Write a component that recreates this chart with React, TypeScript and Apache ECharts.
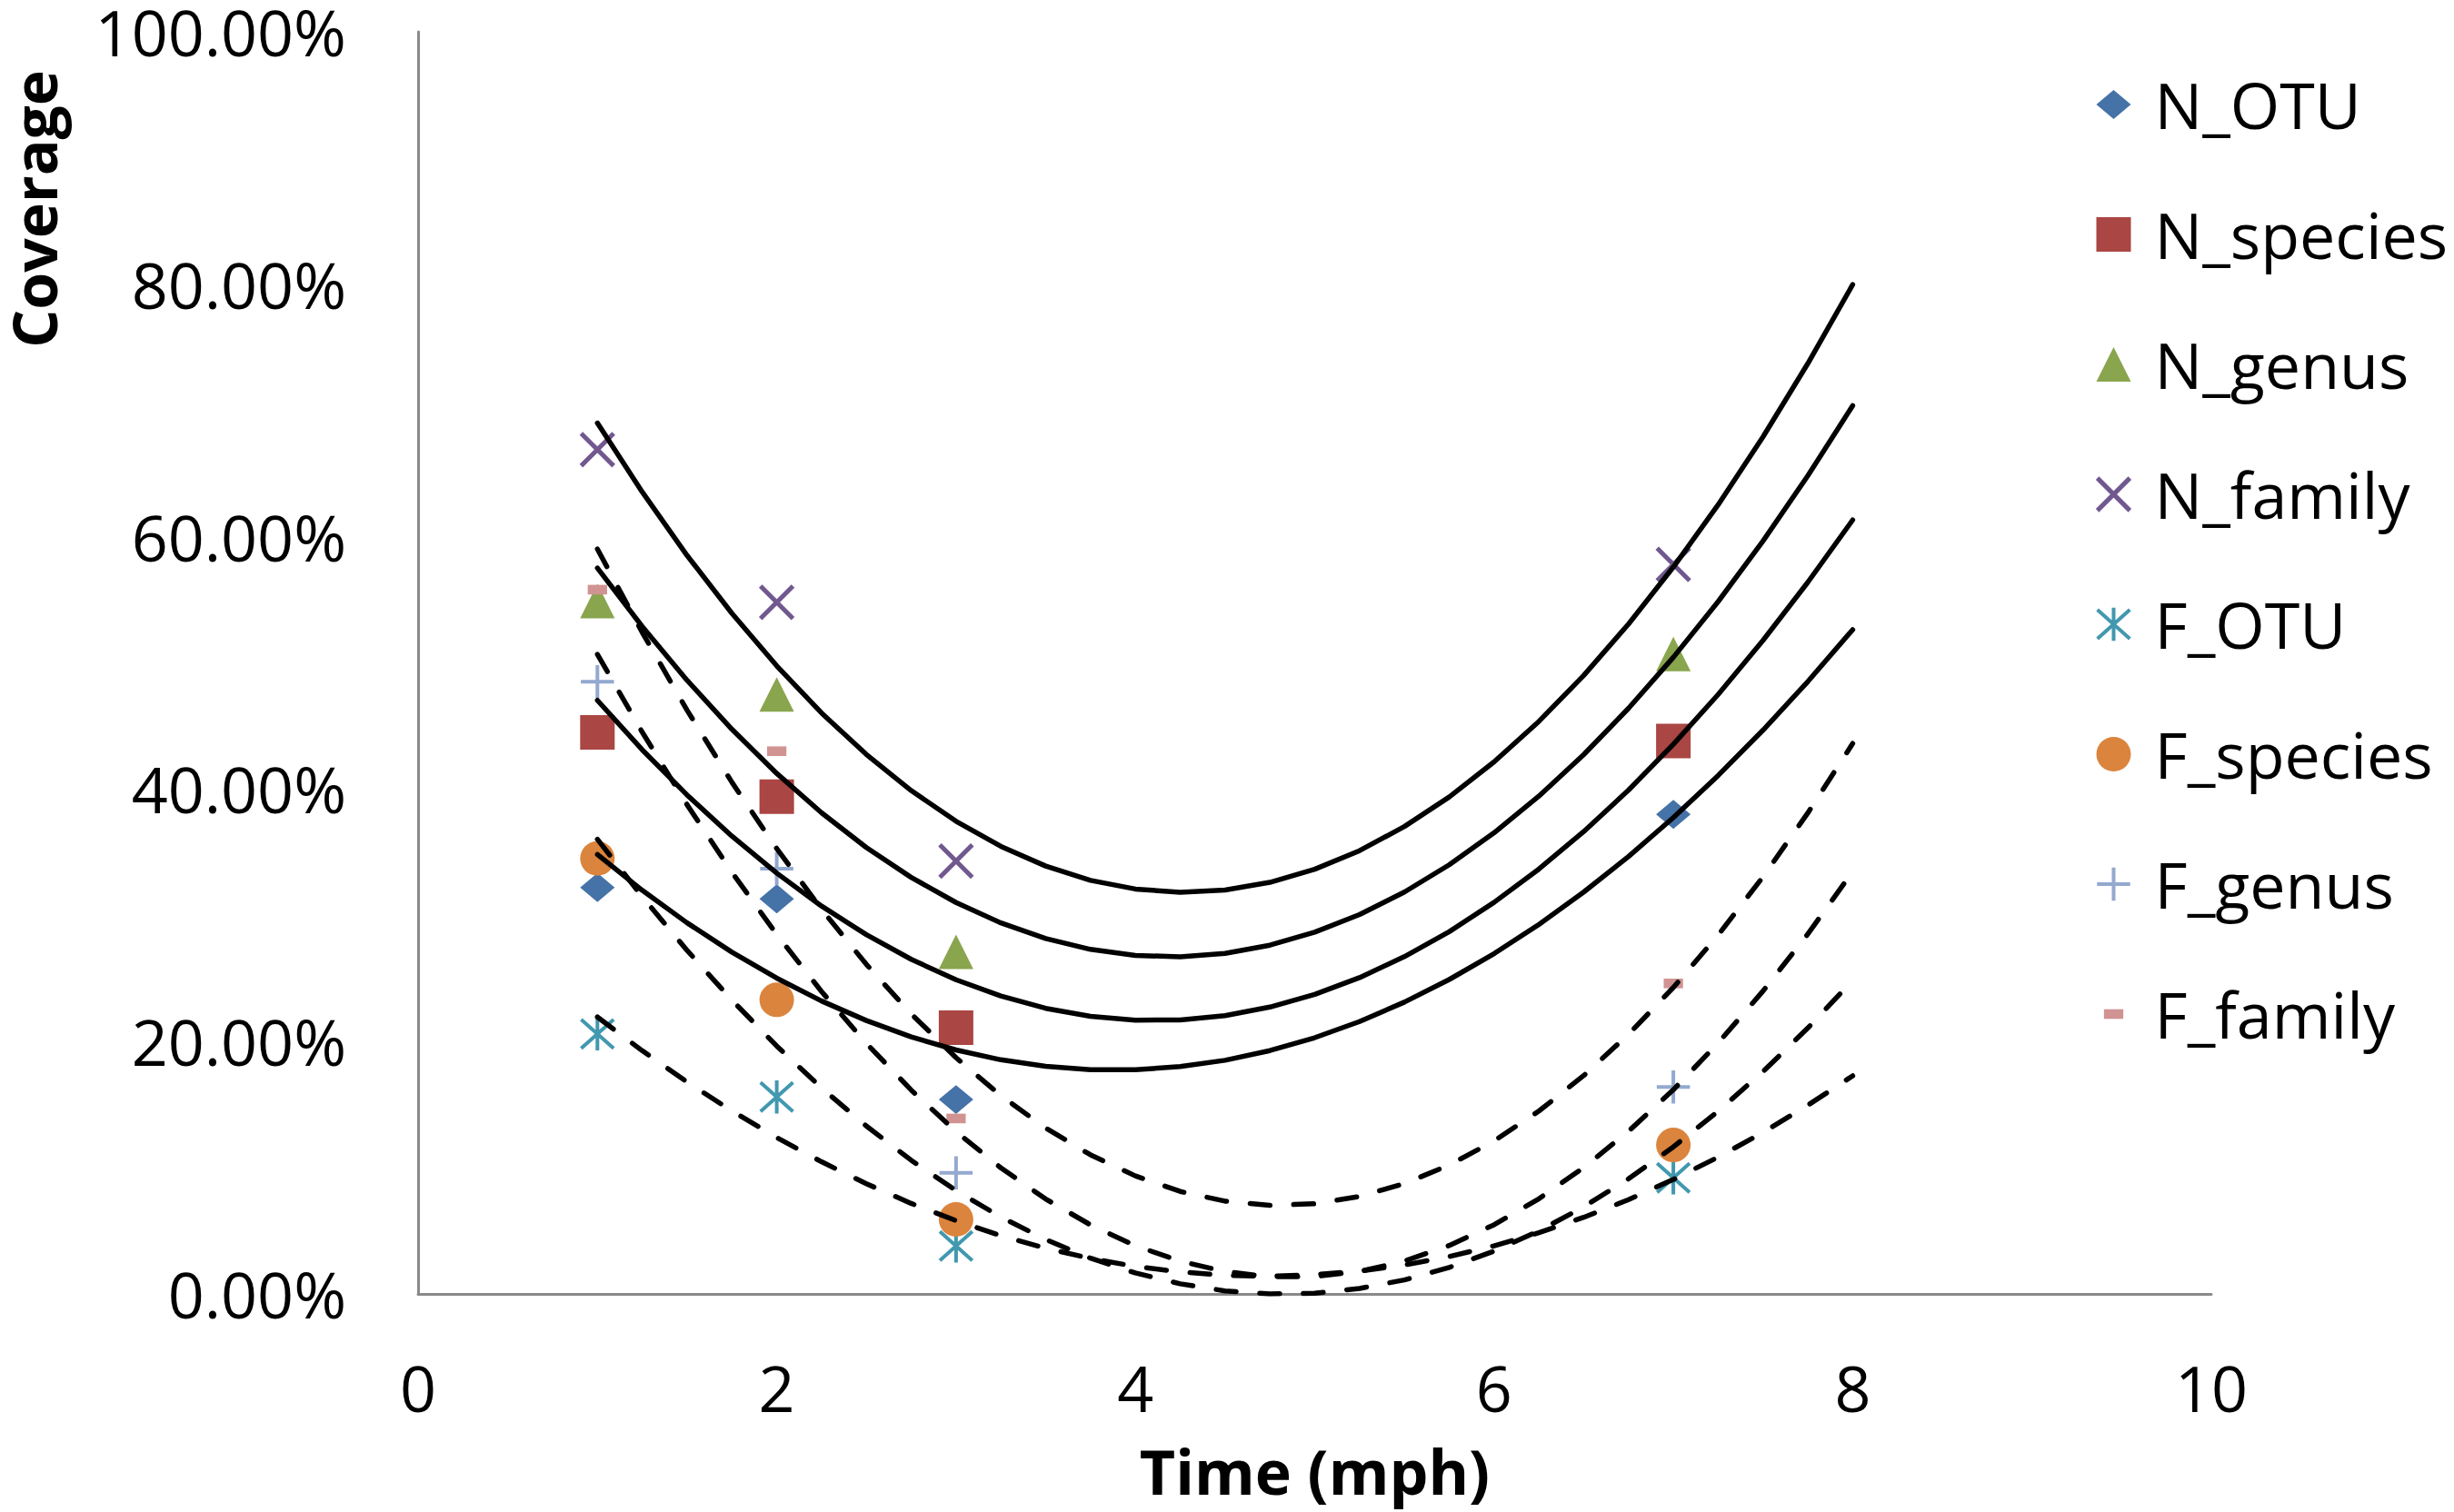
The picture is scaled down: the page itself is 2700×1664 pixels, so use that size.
import React, { useEffect, useRef } from "react";
import * as echarts from "echarts";

// ---- data (coverage in %) ----
const seriesNames = ["N_OTU", "N_species", "N_genus", "N_family", "F_OTU", "F_species", "F_genus", "F_family"];
const speeds = [1, 2, 3, 7];
const nOTU = [32.2, 31.3, 15.4, 38.0];
const nSpecies = [44.5, 39.4, 21.1, 43.8];
const nGenus = [54.9, 47.5, 27.1, 50.7];
const nFamily = [66.9, 54.8, 34.3, 57.8];
const fOTU = [20.6, 15.6, 3.8, 9.2];
const fSpecies = [34.5, 23.3, 5.9, 11.8];
const fGenus = [48.5, 33.7, 9.6, 16.4];
const fFamily = [55.8, 43.0, 13.9, 24.6];

// polynomial trendlines (forecast to 8)
const trendX = [1, 1.25, 1.5, 1.75, 2, 2.25, 2.5, 2.75, 3, 3.25, 3.5, 3.75, 4, 4.25, 4.5, 4.75, 5, 5.25, 5.5, 5.75, 6, 6.25, 6.5, 6.75, 7, 7.25, 7.5, 7.75, 8];
const trendNOTU = [34.82, 31.98, 29.4, 27.08, 25.02, 23.21, 21.66, 20.36, 19.33, 18.55, 18.03, 17.76, 17.76, 18.01, 18.51, 19.28, 20.3, 21.58, 23.12, 24.91, 26.96, 29.27, 31.84, 34.66, 37.74, 41.08, 44.67, 48.52, 52.63];
const trendNSpecies = [47.03, 43.11, 39.53, 36.27, 33.34, 30.73, 28.46, 26.51, 24.89, 23.6, 22.63, 22.0, 21.69, 21.71, 22.05, 22.73, 23.73, 25.06, 26.72, 28.7, 31.02, 33.66, 36.63, 39.92, 43.55, 47.5, 51.78, 56.39, 61.32];
const trendNGenus = [57.51, 52.88, 48.62, 44.74, 41.24, 38.12, 35.37, 33.0, 31.01, 29.4, 28.16, 27.3, 26.82, 26.71, 26.98, 27.63, 28.66, 30.06, 31.84, 34.0, 36.53, 39.44, 42.73, 46.4, 50.44, 54.86, 59.66, 64.83, 70.38];
const trendNFamily = [69.0, 63.54, 58.51, 53.92, 49.76, 46.03, 42.74, 39.88, 37.45, 35.46, 33.9, 32.77, 32.08, 31.82, 32.0, 32.61, 33.65, 35.12, 37.03, 39.37, 42.15, 45.36, 49.0, 53.08, 57.59, 62.53, 67.91, 73.72, 79.97];
const trendFOTU = [21.94, 19.27, 16.79, 14.5, 12.39, 10.47, 8.73, 7.17, 5.81, 4.62, 3.62, 2.81, 2.18, 1.74, 1.48, 1.4, 1.52, 1.81, 2.29, 2.96, 3.81, 4.85, 6.07, 7.47, 9.07, 10.84, 12.8, 14.95, 17.28];
const trendFSpecies = [36.02, 31.47, 27.22, 23.28, 19.64, 16.32, 13.3, 10.59, 8.19, 6.09, 4.31, 2.83, 1.66, 0.8, 0.24, 0.0, 0.06, 0.43, 1.11, 2.1, 3.39, 4.99, 6.9, 9.12, 11.65, 14.48, 17.62, 21.07, 24.83];
const trendFGenus = [50.68, 44.51, 38.76, 33.41, 28.48, 23.96, 19.85, 16.15, 12.86, 9.99, 7.52, 5.47, 3.82, 2.59, 1.77, 1.36, 1.37, 1.78, 2.6, 3.84, 5.48, 7.54, 10.01, 12.89, 16.18, 19.89, 24.0, 28.52, 33.46];
const trendFFamily = [59.02, 52.41, 46.25, 40.54, 35.28, 30.47, 26.11, 22.19, 18.72, 15.71, 13.14, 11.02, 9.35, 8.12, 7.35, 7.02, 7.14, 7.72, 8.74, 10.21, 12.12, 14.49, 17.3, 20.57, 24.28, 28.44, 33.05, 38.11, 43.61];

const xTicks = [0, 2, 4, 6, 8, 10];
const yTicks = [0, 20, 40, 60, 80, 100];

const pointValues = [nOTU, nSpecies, nGenus, nFamily, fOTU, fSpecies, fGenus, fFamily];
const trendValues = [trendNOTU, trendNSpecies, trendNGenus, trendNFamily, trendFOTU, trendFSpecies, trendFGenus, trendFFamily];

const colors = ["#4572A7", "#AA4643", "#89A54E", "#71588F", "#4198AF", "#DB843D", "#93A9CF", "#D19392"];

const BOX = "M0 0 M100 100 ";
const symbols = [
  BOX + "M50 8 L100 50 L50 92 L0 50 Z",
  BOX + "M0 0 L100 0 L100 100 L0 100 Z",
  BOX + "M50 0 L100 100 L0 100 Z",
  BOX + "M3 3 L97 97 M97 3 L3 97",
  BOX + "M50 2 L50 98 M3 8 L97 92 M97 8 L3 92",
  BOX + "M0 50 A50 50 0 1 1 100 50 A50 50 0 1 1 0 50 Z",
  BOX + "M50 2 L50 98 M2 50 L98 50",
  BOX + "M22 36 L78 36 L78 64 L22 64 Z",
];
const strokeWidths = [0, 0, 0, 5, 4, 0, 4, 0];

const FONT = '"Open Sans", "Liberation Sans", sans-serif';

export default function App() {
  const ref = useRef<HTMLDivElement>(null);

  useEffect(() => {
    if (!ref.current) return;
    const chart = echarts.init(ref.current, undefined, { renderer: "svg" });

    const scatterSeries = seriesNames.map((name, i) => ({
      name,
      type: "scatter",
      symbol: "path://" + symbols[i],
      symbolSize: 38,
      z: 2,
      itemStyle: {
        color: colors[i],
        borderColor: colors[i],
        borderWidth: strokeWidths[i],
        opacity: 1,
      },
      data: speeds.map((x, j) => [x, pointValues[i][j]]),
    }));

    const trendSeries = seriesNames.map((name, i) => ({
      name: "Poly. (" + name + ")",
      type: "line",
      smooth: false,
      showSymbol: false,
      symbol: "none",
      z: 4,
      silent: true,
      lineStyle: {
        color: "#000",
        width: 5.5,
        type: i < 4 ? "solid" : [22, 26],
        cap: "round",
        join: "round",
      },
      data: trendX.map((x, j) => [x, trendValues[i][j]]),
    }));

    chart.setOption({
      animation: false,
      backgroundColor: "#fff",
      grid: { left: 460, top: 31, right: 267, bottom: 240, containLabel: false },
      xAxis: {
        type: "value",
        min: xTicks[0],
        max: xTicks[xTicks.length - 1],
        interval: xTicks[1] - xTicks[0],
        name: "Time (mph)",
        nameLocation: "middle",
        nameGap: 160,
        nameTextStyle: { fontFamily: FONT, fontSize: 68, fontWeight: "bold", color: "#000" },
        axisLine: { show: true, onZero: false, lineStyle: { color: "#8a8a8a", width: 3 } },
        axisTick: { show: false },
        splitLine: { show: false },
        axisLabel: { fontFamily: FONT, fontSize: 70, color: "#000", margin: 68 },
      },
      yAxis: {
        type: "value",
        min: yTicks[0],
        max: yTicks[yTicks.length - 1],
        interval: yTicks[1] - yTicks[0],
        axisLine: { show: true, onZero: false, lineStyle: { color: "#8a8a8a", width: 3 } },
        axisTick: { show: false },
        splitLine: { show: false },
        axisLabel: {
          fontFamily: FONT,
          fontSize: 70,
          color: "#000",
          margin: 79,
          formatter: (v: number) => v.toFixed(2) + "%",
        },
      },
      legend: {
        orient: "vertical",
        left: 2299,
        top: 75,
        itemWidth: 80,
        itemHeight: 38,
        itemGap: 73,
        selectedMode: false,
        textStyle: { fontFamily: FONT, fontSize: 70, lineHeight: 70, color: "#000" },
        data: seriesNames.map((name, i) => ({
          name,
          icon: "path://" + symbols[i],
          itemStyle: { color: colors[i], borderColor: colors[i], borderWidth: strokeWidths[i] },
        })),
      },
      graphic: [
        {
          type: "text",
          x: 37,
          y: 230,
          rotation: Math.PI / 2,
          style: {
            text: "Coverage",
            fontFamily: FONT,
            fontSize: 66,
            fontWeight: "bold",
            fill: "#000",
            align: "center",
            verticalAlign: "middle",
          },
        },
      ],
      series: [...scatterSeries, ...trendSeries],
    });

    return () => chart.dispose();
  }, []);

  return (
    <div
      ref={ref}
      style={{ position: "absolute", left: 0, top: 0, width: 2700, height: 1664, background: "#fff" }}
    />
  );
}
